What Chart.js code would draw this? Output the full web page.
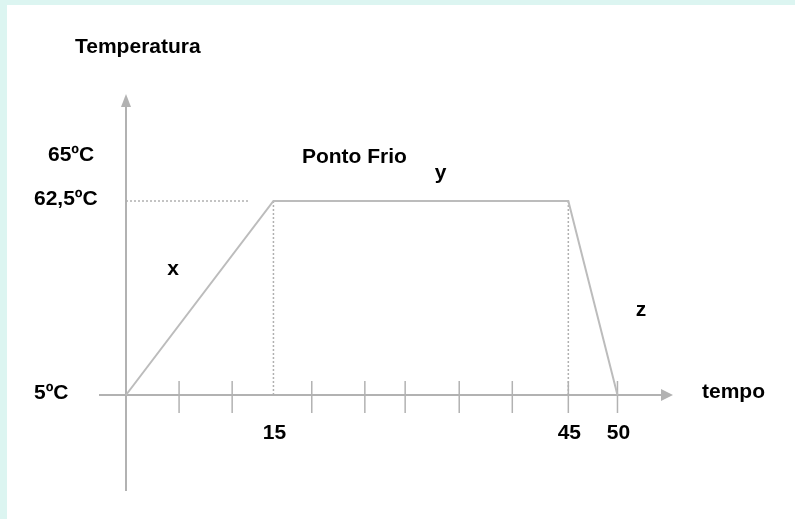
<!DOCTYPE html>
<html><head><meta charset="utf-8">
<script src="https://cdn.jsdelivr.net/npm/chart.js@4.4.1/dist/chart.umd.min.js"></script>
<style>html,body{margin:0;padding:0;background:#dcf5f1;overflow:hidden}canvas{display:block}</style>
</head><body>
<canvas id="c" width="795" height="519"></canvas>
<script>
// --- data ---
const tempo = [0, 15, 45, 50];                 // minutes
const temperatura = [5, 62.5, 62.5, 5];        // ºC
const guideTimes = [15, 45];                   // vertical dotted guides
const guideTemp = 62.5;                        // horizontal dotted guide level
const guideEnd = 12.6;                         // horizontal guide runs from 0 to here
const tickMarks = [5.4, 10.8, 18.9, 24.3, 28.4, 33.9, 39.3, 45, 50];
const xTickValues = [15, 45, 50];
const xTickLabels = ['15', '45', '50'];
const yTickValues = [5, 62.5, 75.5];
const yTickLabels = ['5ºC', '62,5ºC', '65ºC'];
const segmentLabels = ['x', 'y', 'z'];
const segmentX = [4.8, 32.0, 52.4];
const segmentY = [42.3, 70.8, 30.2];
const stageLabel = 'Ponto Frio';
const stageX = 17.9, stageY = 75.5;
const yTitle = 'Temperatura';
const xTitle = 'tempo';

// --- styles ---
const AXIS = '#b2b2b2';
const LINE = '#bcbcbc';
const DOT = '#b0b0b0';
const FONT = 'bold 21px "Liberation Sans", Arial, sans-serif';
const yLabelIndent = [0, 0, 14];

const dotted = {borderColor: DOT, borderWidth: 1.5, borderDash: [2, 2], pointRadius: 0, tension: 0};
const datasets = [
  {data: tempo.map((t, i) => ({x: t, y: temperatura[i]})), borderColor: LINE, borderWidth: 2, pointRadius: 0, tension: 0},
  Object.assign({data: [{x: 0, y: guideTemp}, {x: guideEnd, y: guideTemp}]}, dotted),
];
guideTimes.forEach(t => datasets.push(Object.assign({data: [{x: t, y: temperatura[0]}, {x: t, y: guideTemp}]}, dotted)));
datasets.push({data: tickMarks.map(t => ({x: t, y: temperatura[0] - 0.6})), showLine: false,
  pointStyle: 'line', pointRotation: 90, pointRadius: 16, pointBorderColor: AXIS, pointBorderWidth: 1.5});

const bgPlugin = {
  id: 'bg',
  beforeDraw(chart) {
    const c = chart.ctx;
    c.save();
    c.fillStyle = '#dcf5f1';
    c.fillRect(0, 0, chart.width, chart.height);
    c.fillStyle = '#ffffff';
    c.fillRect(7, 5, chart.width - 7, chart.height - 5);
    c.restore();
  }
};

const decoPlugin = {
  id: 'deco',
  afterDraw(chart) {
    const c = chart.ctx, xs = chart.scales.x, ys = chart.scales.y, a = chart.chartArea;
    const ox = xs.getPixelForValue(0), oy = ys.getPixelForValue(temperatura[0]);
    c.save();
    // arrows
    c.fillStyle = AXIS;
    c.beginPath();
    c.moveTo(ox, a.top - 12); c.lineTo(ox - 5, a.top + 1); c.lineTo(ox + 5, a.top + 1); c.closePath(); c.fill();
    c.beginPath();
    c.moveTo(a.right + 11, oy); c.lineTo(a.right - 1, oy - 6); c.lineTo(a.right - 1, oy + 6); c.closePath(); c.fill();
    // texts
    c.fillStyle = '#000000';
    c.font = FONT;
    c.textBaseline = 'middle';
    c.textAlign = 'left';
    yTickValues.forEach((v, i) => c.fillText(yTickLabels[i], 34 + yLabelIndent[i], ys.getPixelForValue(v) - 2));
    c.textAlign = 'center';
    xTickValues.forEach((v, i) => c.fillText(xTickLabels[i], xs.getPixelForValue(v) + 1, oy + 38));
    segmentLabels.forEach((s, i) => c.fillText(s, xs.getPixelForValue(segmentX[i]), ys.getPixelForValue(segmentY[i])));
    c.textAlign = 'left';
    c.fillText(stageLabel, xs.getPixelForValue(stageX), ys.getPixelForValue(stageY));
    c.fillText(yTitle, ox - 51, a.top - 59);
    c.fillText(xTitle, a.right + 40, oy - 3);
    c.restore();
  }
};

new Chart(document.getElementById('c'), {
  type: 'line',
  data: {datasets},
  options: {
    responsive: false, devicePixelRatio: 1, animation: false,
    layout: {padding: {left: 100, right: 133, top: 106, bottom: 29}},
    plugins: {legend: {display: false}, tooltip: {enabled: false}},
    scales: {
      x: {type: 'linear', min: -2.645, max: 54.53, position: {y: 5},
          grid: {display: false}, ticks: {display: false},
          border: {display: true, color: AXIS, width: 2}},
      y: {type: 'linear', min: -23.16, max: 90.66, position: {x: 0},
          grid: {display: false}, ticks: {display: false},
          border: {display: true, color: AXIS, width: 2}}
    }
  },
  plugins: [bgPlugin, decoPlugin]
});
</script>
</body></html>
